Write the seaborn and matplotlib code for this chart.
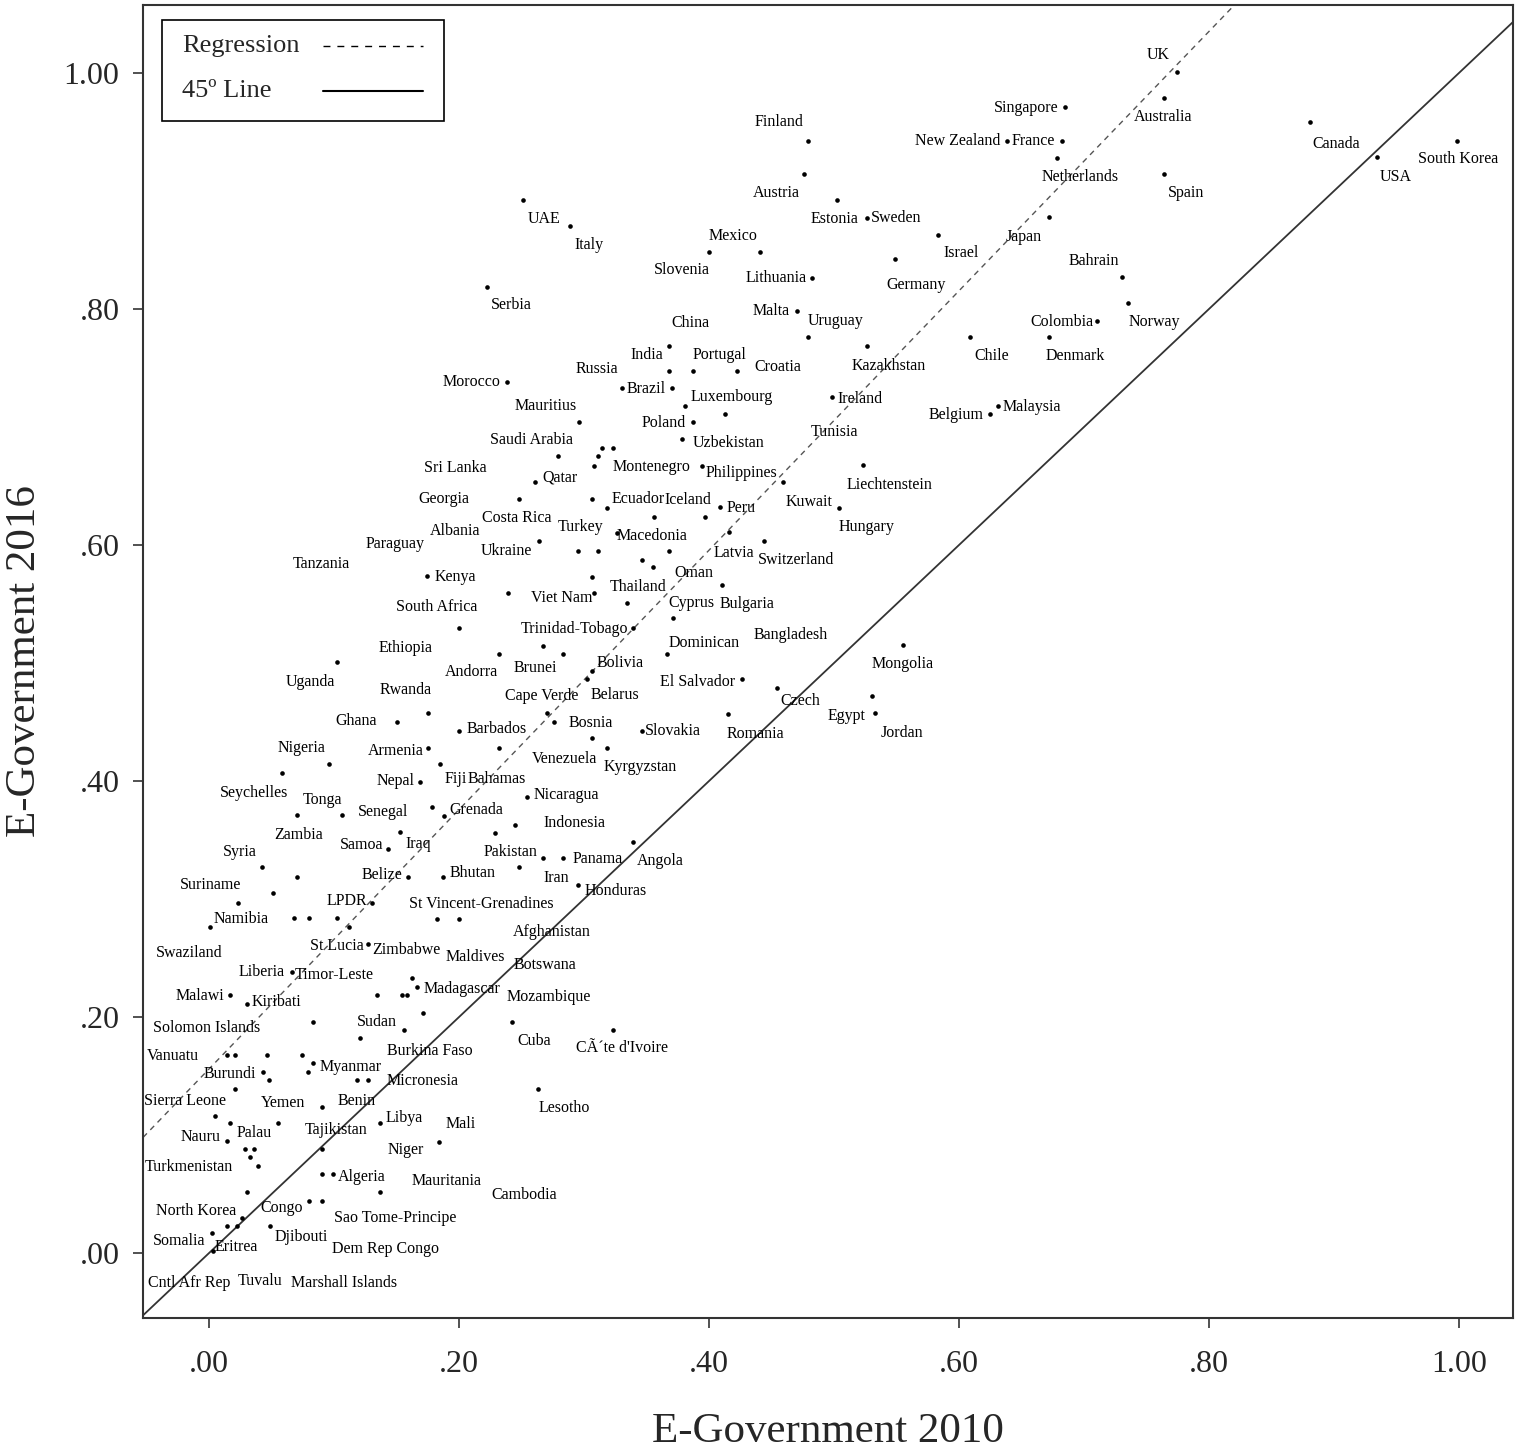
import numpy as np
import pandas as pd
import seaborn as sns
import matplotlib.pyplot as plt
from matplotlib.patches import Rectangle

# E-Government index scores, one dot per country
x2010 = [0.251, 0.289, 0.222, 0.479, 0.476, 0.400, 0.441, 0.482, 0.470, 0.479,
         0.368, 0.774, 0.764, 0.685, 0.638, 0.682, 0.678, 0.764, 0.502, 0.526,
         0.583, 0.672, 0.549, 0.730, 0.735, 0.710, 0.672, 0.609, 0.526, 0.498,
         0.625, 0.631, 0.881, 0.934, 0.998, 0.368, 0.387, 0.422, 0.238, 0.330,
         0.370, 0.381, 0.413, 0.296, 0.387, 0.378, 0.314, 0.323, 0.311, 0.279,
         0.308, 0.394, 0.261, 0.459, 0.248, 0.306, 0.318, 0.356, 0.397, 0.409,
         0.416, 0.444, 0.264, 0.326, 0.295, 0.311, 0.368, 0.346, 0.355, 0.174,
         0.306, 0.410, 0.239, 0.308, 0.334, 0.371, 0.523, 0.504, 0.555, 0.530,
         0.533, 0.200, 0.267, 0.232, 0.102, 0.175, 0.150, 0.270, 0.276, 0.200,
         0.175, 0.232, 0.096, 0.185, 0.058, 0.169, 0.254, 0.339, 0.283, 0.366,
         0.306, 0.302, 0.426, 0.454, 0.415, 0.346, 0.306, 0.318, 0.178, 0.188,
         0.245, 0.229, 0.339, 0.267, 0.283, 0.248, 0.187, 0.295, 0.070, 0.106,
         0.153, 0.143, 0.042, 0.070, 0.159, 0.051, 0.130, 0.023, 0.068, 0.080,
         0.102, 0.112, 0.001, 0.127, 0.066, 0.017, 0.162, 0.166, 0.134, 0.154,
         0.158, 0.182, 0.200, 0.171, 0.156, 0.242, 0.323, 0.263, 0.030, 0.083,
         0.121, 0.014, 0.021, 0.046, 0.074, 0.083, 0.079, 0.043, 0.048, 0.118,
         0.127, 0.021, 0.090, 0.005, 0.017, 0.055, 0.137, 0.014, 0.029, 0.036,
         0.033, 0.039, 0.090, 0.090, 0.099, 0.030, 0.137, 0.080, 0.090, 0.026,
         0.014, 0.022, 0.049, 0.002, 0.003, 0.184]
y2016 = [0.892, 0.870, 0.819, 0.942, 0.914, 0.848, 0.848, 0.826, 0.798, 0.776,
         0.769, 1.001, 0.979, 0.971, 0.942, 0.942, 0.928, 0.914, 0.892, 0.877,
         0.863, 0.878, 0.842, 0.827, 0.805, 0.790, 0.776, 0.776, 0.769, 0.725,
         0.711, 0.718, 0.958, 0.929, 0.942, 0.747, 0.747, 0.747, 0.738, 0.733,
         0.733, 0.718, 0.711, 0.704, 0.704, 0.690, 0.682, 0.682, 0.675, 0.675,
         0.667, 0.667, 0.653, 0.653, 0.639, 0.639, 0.631, 0.624, 0.624, 0.632,
         0.611, 0.603, 0.603, 0.610, 0.595, 0.595, 0.595, 0.587, 0.581, 0.574,
         0.573, 0.566, 0.559, 0.559, 0.551, 0.538, 0.668, 0.631, 0.515, 0.472,
         0.458, 0.530, 0.514, 0.508, 0.501, 0.458, 0.450, 0.458, 0.450, 0.442,
         0.428, 0.428, 0.414, 0.414, 0.407, 0.399, 0.386, 0.530, 0.508, 0.508,
         0.493, 0.486, 0.486, 0.479, 0.457, 0.442, 0.436, 0.428, 0.378, 0.370,
         0.363, 0.356, 0.348, 0.335, 0.335, 0.327, 0.319, 0.312, 0.371, 0.371,
         0.357, 0.342, 0.327, 0.319, 0.319, 0.305, 0.297, 0.297, 0.284, 0.284,
         0.284, 0.276, 0.276, 0.262, 0.238, 0.219, 0.233, 0.225, 0.219, 0.219,
         0.219, 0.283, 0.283, 0.203, 0.189, 0.196, 0.189, 0.139, 0.211, 0.196,
         0.182, 0.168, 0.168, 0.168, 0.168, 0.161, 0.153, 0.153, 0.147, 0.147,
         0.147, 0.139, 0.124, 0.116, 0.110, 0.110, 0.110, 0.095, 0.088, 0.088,
         0.081, 0.074, 0.088, 0.067, 0.067, 0.052, 0.052, 0.044, 0.044, 0.030,
         0.023, 0.023, 0.023, 0.017, 0.002, 0.094]

# country labels as SPSS placed them (label position in data units)
countries = ["UK", "Singapore", "Australia", "Finland", "New Zealand", "France", "Canada",
             "South Korea", "Netherlands", "USA", "Austria", "Spain", "UAE", "Estonia",
             "Sweden", "Italy", "Mexico", "Japan", "Israel", "Bahrain", "Slovenia",
             "Lithuania", "Germany", "Serbia", "Malta", "Uruguay", "China", "Colombia",
             "Norway", "India", "Portugal", "Chile", "Denmark", "Croatia", "Kazakhstan",
             "Russia", "Morocco", "Brazil", "Luxembourg", "Ireland", "Mauritius", "Belgium",
             "Malaysia", "Poland", "Tunisia", "Saudi Arabia", "Uzbekistan", "Sri Lanka",
             "Montenegro", "Philippines", "Qatar", "Liechtenstein", "Georgia", "Ecuador",
             "Iceland", "Kuwait", "Peru", "Costa Rica", "Turkey", "Albania", "Hungary",
             "Macedonia", "Paraguay", "Ukraine", "Latvia", "Switzerland", "Tanzania", "Oman",
             "Kenya", "Thailand", "Viet Nam", "Cyprus", "Bulgaria", "South Africa",
             "Trinidad-Tobago", "Bangladesh", "Dominican", "Ethiopia", "Bolivia", "Mongolia",
             "Andorra", "Brunei", "Uganda", "El Salvador", "Cape Verde", "Belarus", "Czech",
             "Rwanda", "Egypt", "Ghana", "Bosnia", "Barbados", "Slovakia", "Romania", "Jordan",
             "Nigeria", "Armenia", "Venezuela", "Kyrgyzstan", "Nepal", "Fiji", "Bahamas",
             "Seychelles", "Nicaragua", "Tonga", "Senegal", "Grenada", "Indonesia", "Zambia",
             "Samoa", "Iraq", "Syria", "Pakistan", "Panama", "Angola", "Iran", "Belize",
             "Bhutan", "Honduras", "Suriname", "LPDR", "St Vincent-Grenadines", "Namibia",
             "Afghanistan", "St Lucia", "Zimbabwe", "Swaziland", "Maldives", "Botswana",
             "Liberia", "Timor-Leste", "Madagascar", "Mozambique", "Malawi", "Kiribati",
             "Solomon Islands", "Sudan", "Cuba", "CÃ´te d'Ivoire", "Vanuatu", "Burkina Faso",
             "Burundi", "Myanmar", "Micronesia", "Sierra Leone", "Yemen", "Benin", "Lesotho",
             "Libya", "Mali", "Nauru", "Palau", "Tajikistan", "Niger", "Turkmenistan",
             "Algeria", "Mauritania", "Cambodia", "North Korea", "Congo", "Sao Tome-Principe",
             "Djibouti", "Somalia", "Eritrea", "Dem Rep Congo", "Cntl Afr Rep", "Tuvalu",
             "Marshall Islands"]
label_x = [0.759, 0.654, 0.763, 0.456, 0.599, 0.659, 0.902, 0.999, 0.697, 0.949, 0.454, 0.782,
           0.268, 0.500, 0.550, 0.304, 0.419, 0.652, 0.602, 0.708, 0.378, 0.454, 0.566, 0.242,
           0.450, 0.501, 0.385, 0.682, 0.756, 0.350, 0.408, 0.626, 0.693, 0.455, 0.544, 0.310,
           0.210, 0.350, 0.418, 0.521, 0.269, 0.598, 0.658, 0.364, 0.500, 0.258, 0.416, 0.197,
           0.354, 0.426, 0.281, 0.544, 0.188, 0.343, 0.383, 0.480, 0.426, 0.246, 0.297, 0.197,
           0.526, 0.354, 0.149, 0.238, 0.420, 0.470, 0.090, 0.388, 0.197, 0.343, 0.282, 0.386,
           0.430, 0.182, 0.292, 0.465, 0.396, 0.157, 0.329, 0.555, 0.210, 0.261, 0.081, 0.391,
           0.266, 0.325, 0.473, 0.157, 0.510, 0.118, 0.305, 0.230, 0.371, 0.437, 0.554, 0.074,
           0.149, 0.284, 0.345, 0.149, 0.197, 0.230, 0.036, 0.286, 0.091, 0.139, 0.214, 0.292,
           0.072, 0.122, 0.167, 0.025, 0.241, 0.311, 0.361, 0.278, 0.138, 0.211, 0.325, 0.001,
           0.110, 0.218, 0.026, 0.274, 0.102, 0.158, -0.016, 0.213, 0.269, 0.042, 0.100, 0.202,
           0.272, -0.007, 0.054, -0.002, 0.134, 0.260, 0.330, -0.029, 0.177, 0.017, 0.113,
           0.171, -0.019, 0.059, 0.118, 0.284, 0.156, 0.201, -0.007, 0.036, 0.102, 0.157,
           -0.016, 0.122, 0.190, 0.252, -0.010, 0.058, 0.149, 0.074, -0.024, 0.022, 0.141,
           -0.016, 0.041, 0.108]
label_y = [1.015, 0.970, 0.963, 0.958, 0.942, 0.942, 0.940, 0.927, 0.912, 0.912, 0.898, 0.898,
           0.876, 0.876, 0.877, 0.854, 0.862, 0.861, 0.847, 0.841, 0.833, 0.826, 0.820, 0.803,
           0.798, 0.790, 0.788, 0.789, 0.789, 0.761, 0.761, 0.760, 0.760, 0.751, 0.752, 0.749,
           0.738, 0.732, 0.725, 0.724, 0.718, 0.710, 0.717, 0.703, 0.696, 0.689, 0.686, 0.665,
           0.666, 0.661, 0.657, 0.651, 0.639, 0.639, 0.638, 0.636, 0.631, 0.623, 0.615, 0.612,
           0.615, 0.608, 0.601, 0.595, 0.593, 0.587, 0.584, 0.576, 0.573, 0.564, 0.555, 0.551,
           0.550, 0.547, 0.529, 0.524, 0.517, 0.513, 0.500, 0.499, 0.492, 0.496, 0.484, 0.484,
           0.472, 0.473, 0.468, 0.477, 0.455, 0.451, 0.449, 0.444, 0.442, 0.440, 0.441, 0.428,
           0.425, 0.419, 0.412, 0.400, 0.402, 0.402, 0.390, 0.388, 0.384, 0.374, 0.375, 0.364,
           0.354, 0.346, 0.347, 0.340, 0.340, 0.334, 0.332, 0.318, 0.320, 0.322, 0.307, 0.312,
           0.298, 0.296, 0.283, 0.272, 0.260, 0.257, 0.254, 0.251, 0.244, 0.238, 0.236, 0.224,
           0.217, 0.218, 0.213, 0.191, 0.196, 0.180, 0.174, 0.167, 0.171, 0.152, 0.158, 0.146,
           0.129, 0.127, 0.129, 0.123, 0.114, 0.109, 0.098, 0.102, 0.104, 0.087, 0.073, 0.064,
           0.061, 0.049, 0.036, 0.038, 0.030, 0.014, 0.010, 0.005, 0.003, -0.025, -0.024,
           -0.025]

# fitted regression line as drawn in the chart
reg_intercept = 0.156
reg_slope = 1.099

tick_vals = [0.0, 0.2, 0.4, 0.6, 0.8, 1.0]
tick_labels = ['.00', '.20', '.40', '.60', '.80', '1.00']

df = pd.DataFrame({'egov2010': x2010, 'egov2016': y2016})

sns.set_style('white')
plt.rcParams['font.family'] = ['Liberation Serif', 'DejaVu Serif']

fig = plt.figure(figsize=(15.35, 14.5), dpi=100)
ax = fig.add_axes([0.0932, 0.0910, 0.8925, 0.9056])

ax.set_xlim(-0.0528, 1.0432)
ax.set_ylim(-0.0551, 1.0576)

# 45 degree line and regression line
ax.axline((0, 0), slope=1, color='#333333', lw=1.3, zorder=1)
ax.axline((0, reg_intercept), slope=reg_slope, color='#555555', lw=1.0,
          linestyle=(0, (4, 3.5)), zorder=1)

sns.scatterplot(data=df, x='egov2010', y='egov2016', color='black', s=11,
                linewidth=0, ax=ax, zorder=3)

for name, lx, ly in zip(countries, label_x, label_y):
    ax.text(lx, ly, name, fontsize=11.5, ha='center', va='center', color='black', zorder=4)

ax.set_xticks(tick_vals)
ax.set_xticklabels(tick_labels)
ax.set_yticks(tick_vals)
ax.set_yticklabels(tick_labels)
ax.tick_params(axis='both', direction='out', length=7, width=1.2, color='#333333',
               labelsize=23, bottom=True, left=True)
ax.tick_params(axis='x', pad=16)
ax.tick_params(axis='y', pad=10)

ax.set_xlabel('E-Government 2010', fontsize=31, labelpad=24)
ax.set_ylabel('E-Government 2016', fontsize=31, labelpad=14)

for sp in ax.spines.values():
    sp.set_color('#333333')
    sp.set_linewidth(1.5)

# legend box drawn like the SPSS one: text on the left, line sample on the right
ax.add_patch(Rectangle((0.0139, 0.9117), 0.2058, 0.0769, transform=ax.transAxes,
                       fill=False, edgecolor='black', lw=1.2, zorder=5))
ax.text(0.0285, 0.9688, 'Regression', transform=ax.transAxes, fontsize=19,
        ha='left', va='center', zorder=6)
ax.text(0.0285, 0.9345, '45º Line', transform=ax.transAxes, fontsize=19,
        ha='left', va='center', zorder=6)
ax.plot([0.1314, 0.2044], [0.9688, 0.9688], transform=ax.transAxes, color='black',
        lw=1.0, linestyle=(0, (5, 5)), zorder=6)
ax.plot([0.1314, 0.2044], [0.9345, 0.9345], transform=ax.transAxes, color='black',
        lw=1.5, zorder=6)

fig.savefig('out.png', dpi=100)
